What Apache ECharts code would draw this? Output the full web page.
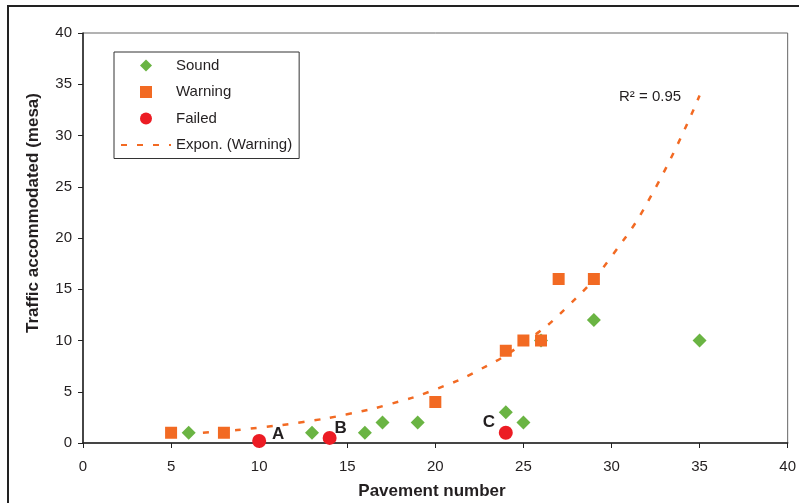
<!DOCTYPE html>
<html>
<head>
<meta charset="utf-8">
<script src="https://cdn.jsdelivr.net/npm/echarts@6/dist/echarts.min.js"></script>
<style>
  html, body { margin: 0; padding: 0; background: #fff; }
  #chart { width: 799px; height: 503px; }
</style>
</head>
<body>
<div id="chart"></div>
<script>
// ---- Data ----
const pavementSound   = [6, 13, 16, 17, 19, 24, 25, 26, 29, 35];
const trafficSound    = [1, 1, 1, 2, 2, 3, 2, 10, 12, 10];
const pavementWarning = [5, 8, 20, 24, 25, 26, 27, 29];
const trafficWarning  = [1, 1, 4, 9, 10, 10, 16, 16];
const pavementFailed  = [10, 14, 24];
const trafficFailed   = [0.2, 0.5, 1];
const failedLabels    = ['A', 'B', 'C'];
// Exponential trendline of "Warning"
const trendX = [5, 7.5, 10, 12.5, 15, 17.5, 20, 22.5, 25, 27.5, 30, 32.5, 35];
const trendY = [0.80, 1.09, 1.50, 2.05, 2.80, 3.83, 5.23, 7.14, 9.74, 13.3, 18.2, 24.9, 33.9];
const seriesNames = ['Sound', 'Warning', 'Failed', 'Expon. (Warning)'];
const rSquaredText = 'R² = 0.95';
const xAxisTitle = 'Pavement number';
const yAxisTitle = 'Traffic accommodated (mesa)';

// ---- Styling ----
const FONT = '"Liberation Sans", Arial, sans-serif';
const TXT = '#231f20';
const GREEN = '#6ab443';
const ORANGE = '#f26a23';
const RED = '#ec1c24';
const labelOffsets = [[19, -7], [11, -10], [-17, -10]];

const zip = (xs, ys) => xs.map((x, i) => [x, ys[i]]);

const chart = echarts.init(document.getElementById('chart'), null, { renderer: 'canvas' });
chart.setOption({
  animation: false,
  backgroundColor: '#ffffff',
  textStyle: { fontFamily: FONT, color: TXT },
  grid: {
    left: 83, right: 10, top: 33, bottom: 60,
    show: true, borderColor: '#666', borderWidth: 1, backgroundColor: 'transparent'
  },
  legend: {
    orient: 'vertical',
    left: 114, top: 52,
    padding: [6, 7, 6, 6],
    borderColor: '#333', borderWidth: 1,
    backgroundColor: '#fff',
    itemWidth: 50, itemHeight: 12, itemGap: 11.5,
    textStyle: { fontFamily: FONT, fontSize: 15, color: TXT },
    selectedMode: false,
    data: [
      { name: seriesNames[0], icon: 'path://M0,-1L1,0L0,1L-1,0Z' },
      { name: seriesNames[1], icon: 'path://M0,0L1,0L1,1L0,1Z' },
      { name: seriesNames[2], icon: 'circle' },
      { name: seriesNames[3], itemStyle: { opacity: 0 } }
    ]
  },
  xAxis: {
    type: 'value', min: 0, max: 40, interval: 5,
    splitLine: { show: false },
    axisLine: { show: true, onZero: false, lineStyle: { color: '#222', width: 1.5 } },
    axisTick: { show: true, inside: false, length: 5, lineStyle: { color: '#222', width: 1 } },
    axisLabel: { fontFamily: FONT, fontSize: 15, color: TXT, margin: 16 }
  },
  yAxis: {
    type: 'value', min: 0, max: 40, interval: 5,
    splitLine: { show: false },
    axisLine: { show: true, onZero: false, lineStyle: { color: '#222', width: 1.5 } },
    axisTick: { show: true, inside: false, length: 5, lineStyle: { color: '#222', width: 1 } },
    axisLabel: { fontFamily: FONT, fontSize: 15, color: TXT, margin: 11 }
  },
  graphic: [
    {
      type: 'rect', silent: true, z: 100,
      shape: { x: 8, y: 6, width: 820, height: 520 },
      style: { fill: 'none', stroke: '#222', lineWidth: 2 }
    },
    {
      type: 'text', x: 33, y: 213, rotation: Math.PI / 2,
      style: { text: yAxisTitle, font: 'bold 17px ' + FONT, fill: TXT, align: 'center', verticalAlign: 'middle' }
    },
    {
      type: 'text', x: 432, y: 491,
      style: { text: xAxisTitle, font: 'bold 17px ' + FONT, fill: TXT, align: 'center', verticalAlign: 'middle' }
    },
    {
      type: 'text', x: 619, y: 97,
      style: { text: rSquaredText, font: '15px ' + FONT, fill: TXT, align: 'left', verticalAlign: 'middle' }
    }
  ],
  series: [
    {
      name: seriesNames[3], type: 'line', smooth: true,
      symbol: 'none', showSymbol: false, z: 1,
      lineStyle: { color: ORANGE, width: 2.5, type: [6, 10] },
      itemStyle: { color: ORANGE },
      data: zip(trendX, trendY)
    },
    {
      name: seriesNames[0], type: 'scatter', symbol: 'diamond', symbolSize: 14, z: 2,
      itemStyle: { color: GREEN, opacity: 1 },
      data: zip(pavementSound, trafficSound)
    },
    {
      name: seriesNames[1], type: 'scatter', symbol: 'rect', symbolSize: 12, z: 3,
      itemStyle: { color: ORANGE, opacity: 1 },
      data: zip(pavementWarning, trafficWarning)
    },
    {
      name: seriesNames[2], type: 'scatter', symbol: 'circle', symbolSize: 14, z: 4,
      itemStyle: { color: RED, opacity: 1 },
      label: {
        show: true, position: 'inside', align: 'center', verticalAlign: 'middle',
        fontFamily: FONT, fontWeight: 'bold', fontSize: 17, color: TXT
      },
      data: pavementFailed.map((x, i) => ({
        value: [x, trafficFailed[i]],
        label: { formatter: failedLabels[i], offset: labelOffsets[i] }
      }))
    }
  ]
});
</script>
</body>
</html>
